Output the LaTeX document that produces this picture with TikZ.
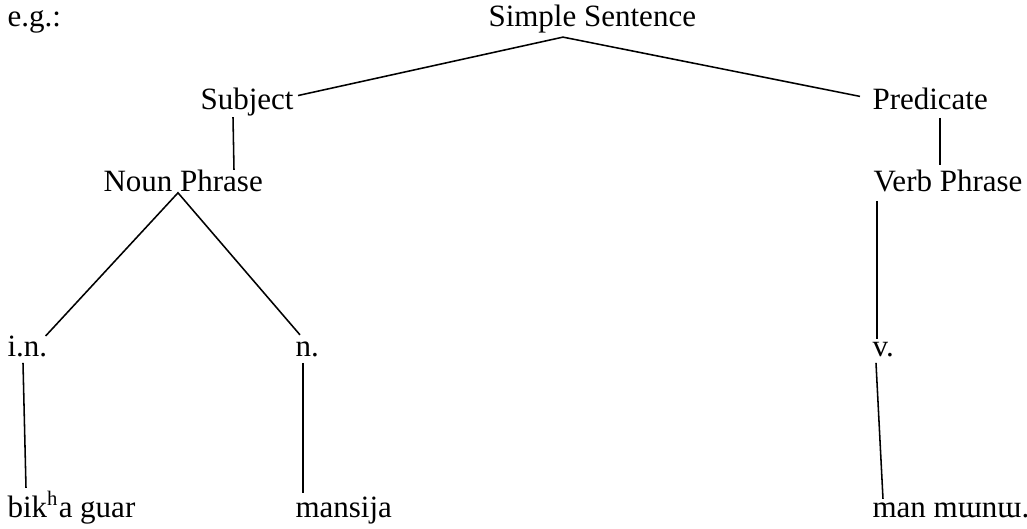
\documentclass[tikz,border=0pt]{standalone}
\usepackage{fontspec}
\setmainfont{Liberation Serif}
\usetikzlibrary{calc}
\begin{document}
\begin{tikzpicture}[
  x=0.3871pt, y=-0.3871pt,
  every node/.style={inner sep=0pt, anchor=base west, font=\fontsize{12pt}{14pt}\selectfont},
  branch/.style={line width=0.6pt}
]
\useasboundingbox (0,0) rectangle (1027,529);
\node (EG) at (7,27) {e.g.:};
\node (SS) at (488,27) {Simple Sentence};
\node (Sub) at (200,110) {Subject};
\node (Pred) at (872,110) {Predicate};
\node (NP) at (103,192) {Noun Phrase};
\node (VP) at (873,192) {Verb Phrase};
\node (IN) at (7,357) {i.n.};
\node (N) at (295,357) {n.};
\node (V) at (872,356) {v.};
\node (W1) at (7,517) {bik\textsuperscript{h}a guar};
\node (W2) at (295,517) {mansija};
\node (W3) at (872,517) {man mɯnɯ.};

\coordinate (SSroot) at ($(SS.south west)+(75,3)$);
\coordinate (NProot) at ($(NP.south west)+(75,0)$);

\draw[branch] ($(Sub.east)+(4,-7)$) -- (SSroot) -- ($(Pred.west)+(-12,-3)$);
\draw[branch] ($(Sub.south west)+(33,0)$) -- ($(NP.north west)+(131,0)$);
\draw[branch] ($(Pred.south west)+(68,7)$) -- ($(VP.north west)+(67,-5)$);
\draw[branch] ($(IN.north east)+(-2,0)$) -- (NProot) -- ($(N.north west)+(5,-7)$);
\draw[branch] ($(VP.south west)+(4,8)$) -- ($(V.north west)+(5,-2)$);
\draw[branch] ($(IN.south west)+(16,5)$) -- ($(W1.north west)+(19,-3)$);
\draw[branch] ($(N.south west)+(8,5)$) -- ($(W2.north west)+(8,-3)$);
\draw[branch] ($(V.south west)+(4,6)$) -- ($(W3.north west)+(11,-3)$);
\end{tikzpicture}
\end{document}
